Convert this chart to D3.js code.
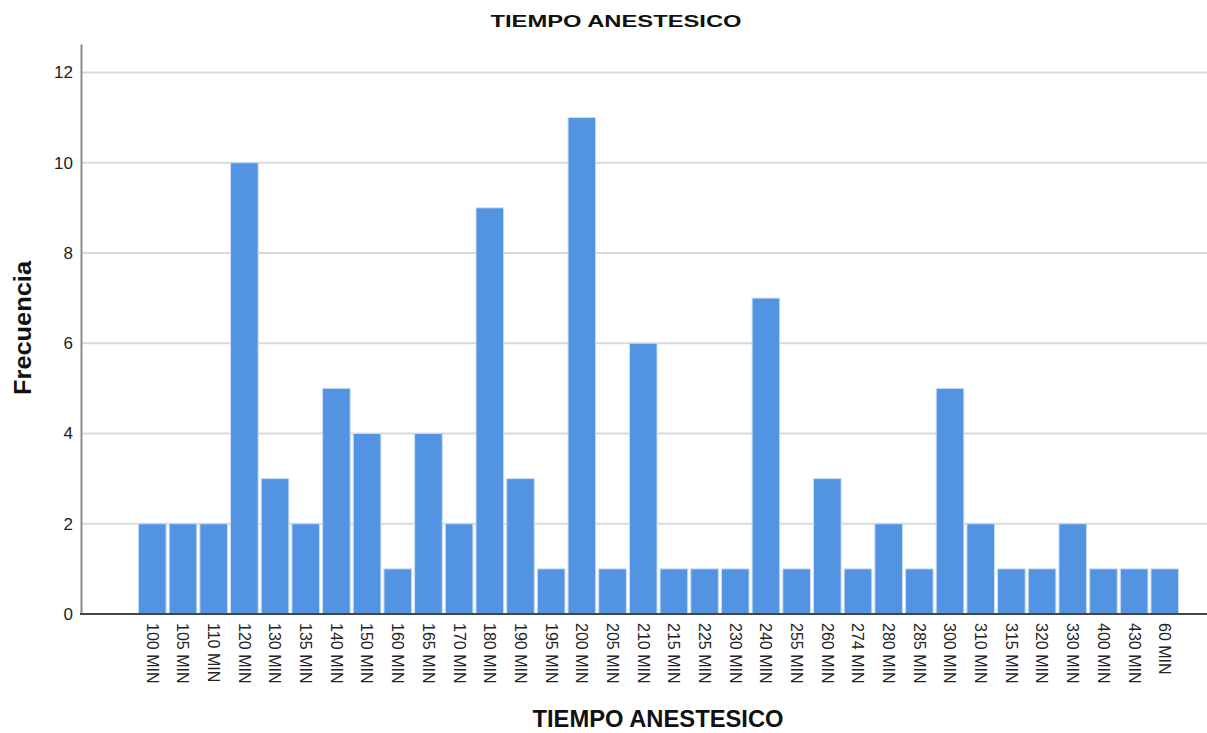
<!DOCTYPE html>
<html>
<head>
<meta charset="utf-8">
<script src="https://cdn.jsdelivr.net/npm/d3@7"></script>
<style>
body { margin: 0; background: #fff; }
text { font-family: "Liberation Sans", Arial, sans-serif; }
</style>
</head>
<body>
<div id="chart"></div>
<script>
var width = 1207;
var height = 733;

// categorias (eje X) y frecuencias
var categorias = ["100 MIN", "105 MIN", "110 MIN", "120 MIN", "130 MIN", "135 MIN", "140 MIN", "150 MIN",
    "160 MIN", "165 MIN", "170 MIN", "180 MIN", "190 MIN", "195 MIN", "200 MIN", "205 MIN", "210 MIN",
    "215 MIN", "225 MIN", "230 MIN", "240 MIN", "255 MIN", "260 MIN", "274 MIN", "280 MIN", "285 MIN",
    "300 MIN", "310 MIN", "315 MIN", "320 MIN", "330 MIN", "400 MIN", "430 MIN", "60 MIN"];
var frecuencias = [2, 2, 2, 10, 3, 2, 5, 4, 1, 4, 2, 9, 3, 1, 11, 1, 6, 1, 1, 1, 7, 1, 3, 1, 2, 1, 5, 2, 1, 1, 2, 1, 1, 1];
var yTicks = [0, 2, 4, 6, 8, 10, 12];

var data = categorias.map((c, i) => ({ cat: c, value: frecuencias[i] }));

var pLeft = 81, pRight = 1207, pTop = 44, pBottom = 614;

const svg = d3.select("#chart").append("svg")
    .attr("width", width)
    .attr("height", height);

var x = d3.scaleBand()
    .domain(categorias)
    .range([138.5, 1178.6])
    .paddingInner(0.1)
    .paddingOuter(0);

var y = d3.scaleLinear()
    .domain([0, 12.63])
    .range([pBottom, pTop]);

// grid lines
svg.append("g")
    .selectAll("line")
    .data(yTicks.filter(d => d > 0))
    .join("line")
    .attr("x1", pLeft)
    .attr("x2", pRight)
    .attr("y1", d => y(d))
    .attr("y2", d => y(d))
    .attr("stroke", "#d9d9d9")
    .attr("stroke-width", 2);

// bars
svg.append("g")
    .selectAll("rect")
    .data(data)
    .join("rect")
    .attr("x", d => x(d.cat))
    .attr("y", d => y(d.value))
    .attr("width", x.bandwidth())
    .attr("height", d => y(0) - y(d.value))
    .attr("fill", "#5294e2")
    .attr("stroke", "#c9ddf6")
    .attr("stroke-width", 1);

// y axis
const yAxis = svg.append("g")
    .attr("transform", "translate(" + pLeft + ",0)")
    .call(d3.axisLeft(y).tickValues(yTicks).tickSize(0).tickPadding(8));
yAxis.select(".domain").attr("stroke", "#8c8c8c").attr("stroke-width", 2);
yAxis.selectAll("text")
    .attr("font-size", 17)
    .attr("fill", "#222")
    .attr("font-family", "Liberation Sans, Arial, sans-serif");

// baseline
svg.append("line")
    .attr("x1", pLeft - 1)
    .attr("x2", pRight)
    .attr("y1", pBottom)
    .attr("y2", pBottom)
    .attr("stroke", "#444")
    .attr("stroke-width", 2);

// x labels
svg.append("g")
    .selectAll("text")
    .data(categorias)
    .join("text")
    .attr("transform", d => "translate(" + (x(d) + x.bandwidth() / 2) + "," + (pBottom + 9) + ") rotate(90)")
    .attr("dy", "0.35em")
    .attr("font-size", 16)
    .attr("fill", "#222")
    .text(d => d);

// titles
svg.append("text")
    .attr("x", 616)
    .attr("y", 27)
    .attr("text-anchor", "middle")
    .attr("font-size", 17)
    .attr("font-weight", "bold")
    .attr("textLength", 251)
    .attr("lengthAdjust", "spacingAndGlyphs")
    .attr("fill", "#111")
    .text("TIEMPO ANESTESICO");

svg.append("text")
    .attr("x", 658)
    .attr("y", 727)
    .attr("text-anchor", "middle")
    .attr("font-size", 23)
    .attr("font-weight", "bold")
    .attr("textLength", 251)
    .attr("lengthAdjust", "spacingAndGlyphs")
    .attr("fill", "#111")
    .text("TIEMPO ANESTESICO");

svg.append("text")
    .attr("transform", "translate(31,328) rotate(-90)")
    .attr("text-anchor", "middle")
    .attr("font-size", 23)
    .attr("font-weight", "bold")
    .attr("textLength", 134)
    .attr("lengthAdjust", "spacingAndGlyphs")
    .attr("fill", "#111")
    .text("Frecuencia");
</script>
</body>
</html>
